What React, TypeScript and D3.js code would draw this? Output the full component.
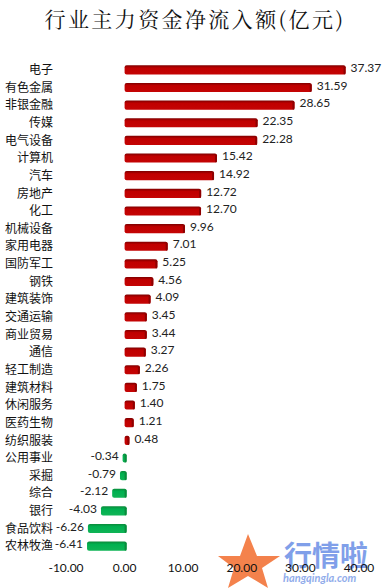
import React from "react";
import * as d3 from "d3";

const categories = ["电子","有色金属","非银金融","传媒","电气设备","计算机","汽车","房地产","化工","机械设备","家用电器","国防军工","钢铁","建筑装饰","交通运输","商业贸易","通信","轻工制造","建筑材料","休闲服务","医药生物","纺织服装","公用事业","采掘","综合","银行","食品饮料","农林牧渔"];
const values = [37.37,31.59,28.65,22.35,22.28,15.42,14.92,12.72,12.70,9.96,7.01,5.25,4.56,4.09,3.45,3.44,3.27,2.26,1.75,1.40,1.21,0.48,-0.34,-0.79,-2.12,-4.03,-6.26,-6.41];
const ticks = [-10,0,10,20,30,40];
const title = "行业主力资金净流入额(亿元)";

const W = 386, H = 588;
const cjk = "'Noto Sans CJK SC', sans-serif";
const num = "Lato, 'Open Sans', sans-serif";

export default function App() {
  const x = d3.scaleLinear().domain([-10, 40]).range([66, 359]);
  const y = d3.scaleBand<string>().domain(categories).range([61, 555]).paddingInner(0.48).paddingOuter(0.24);
  const bh = y.bandwidth();
  const x0 = x(0);
  return (
    <svg width={W} height={H} style={{ position: "absolute", left: 0, top: 0, background: "#fff" }}>
      <defs>
        <linearGradient id="gr" x1="0" y1="0" x2="0" y2="1">
          <stop offset="0" stopColor="#7e0000" />
          <stop offset="0.3" stopColor="#c00000" />
          <stop offset="1" stopColor="#c40404" />
        </linearGradient>
        <linearGradient id="gg" x1="0" y1="0" x2="0" y2="1">
          <stop offset="0" stopColor="#0a8a3a" />
          <stop offset="0.3" stopColor="#00b050" />
          <stop offset="1" stopColor="#10b456" />
        </linearGradient>
      </defs>
      <text x={195} y={27} textAnchor="middle" fontFamily={"'Noto Serif CJK SC', 'Noto Sans CJK SC', serif"} fontSize={21} letterSpacing={2.4} fill="#111">{title}</text>
      {categories.map((c, i) => {
        const v = values[i];
        const yy = y(c)!;
        const cy = yy + bh / 2;
        const pos = v >= 0;
        const xa = pos ? x0 : x(v);
        const w = Math.abs(x(v) - x0) + 2;
        return (
          <g key={c}>
            <text x={53} y={cy} dy="0.35em" textAnchor="end" fontFamily={cjk} fontSize={12} fill="#111">{c}</text>
            <rect x={xa} y={yy} width={w} height={bh} rx={2} fill={pos ? "url(#gr)" : "url(#gg)"} />
            <rect x={xa + w - 2} y={yy + 1} width={2} height={bh - 1} rx={1} fill={pos ? "#8e0000" : "#0b8a3c"} />
            <text x={pos ? xa + w + 5 : xa - 4} y={cy - 2} dy="0.35em" textAnchor={pos ? "start" : "end"} fontFamily={num} fontSize={12} fill="#222">{v.toFixed(2)}</text>
          </g>
        );
      })}
      <g opacity={0.85}>
        <polygon points="248,534 257,556 280,556 262,568 268,588 248,576 228,588 234,568 218,556 240,556" fill="#f26c2d" />
        <text x={284} y={566} fontFamily={cjk} fontSize={28} fontWeight={700} fill="#6a8fe6">行情啦</text>
        <text x={283} y={582} fontFamily={num} fontSize={11} fontStyle="italic" fontWeight={700} fill="#7e9ee8">hangqingla.com</text>
      </g>
      {ticks.map(t => (
        <text key={t} x={x(t)} y={568} dy="0.35em" textAnchor="middle" fontFamily={num} fontSize={12} fill="#111">{t.toFixed(2)}</text>
      ))}
    </svg>
  );
}
